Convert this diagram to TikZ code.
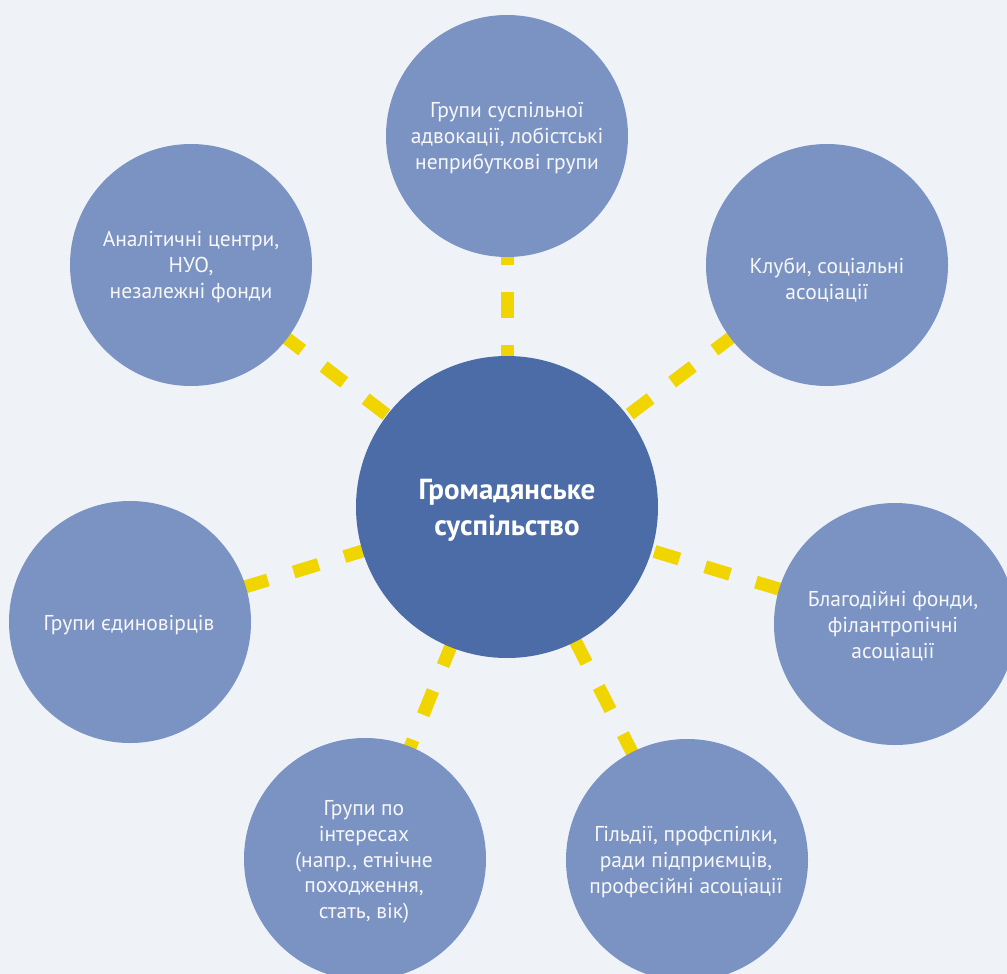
\documentclass[tikz,border=0pt]{standalone}
\usepackage{fontspec}
\setmainfont{PT Sans}
\pgfdeclarelayer{back}
\pgfdeclarelayer{links}
\pgfsetlayers{back,links,main}
\definecolor{bgc}{HTML}{EFF3F8}
\definecolor{outerc}{HTML}{7B93C3}
\definecolor{centerc}{HTML}{4B6CA6}
\definecolor{linkc}{HTML}{F0D500}
\definecolor{txtc}{HTML}{F7F7F7}
\begin{document}
\begin{tikzpicture}[x=1pt,y=-1pt,
 outer/.style={circle, fill=outerc, minimum size=242pt, inner sep=0pt},
 hub/.style={circle, fill=centerc, minimum size=302pt, inner sep=0pt},
 lbl/.style={align=center, text=txtc, font=\fontsize{21.5}{25.8}\selectfont, inner sep=0pt},
 hublbl/.style={align=center, text=white, font=\bfseries\fontsize{29}{36}\selectfont, inner sep=0pt},
 link/.style={draw=linkc, line width=13pt, dash pattern=on 26pt off 27pt}]
\useasboundingbox (0,0) rectangle (1007,974);
\begin{pgfonlayer}{back}
\fill[bgc] (0,0) rectangle (1007,974);
\end{pgfonlayer}
\clip (0,0) rectangle (1007,974);
% circles
\node[hub] (hub) at (507,507) {};
\node[outer] (top) at (507,136) {};
\node[outer] (ul) at (191,265) {};
\node[outer] (ur) at (827,265) {};
\node[outer] (lft) at (130,622) {};
\node[outer] (rgt) at (895,624) {};
\node[outer] (bl) at (365,859) {};
\node[outer] (br) at (687,860) {};
% labels
\node[hublbl] (hubt) at (507,510) {Громадянське\\суспільство};
\node[lbl] (topt) at (507,138) {Групи суспільної\\адвокації, лобістські\\неприбуткові групи};
\node[lbl] (ult) at (191,267) {Аналітичні центри,\\НУО,\\незалежні фонди};
\node[lbl] (urt) at (827,280) {Клуби, соціальні\\асоціації};
\node[lbl] (lftt) at (129,625) {Групи єдиновірців};
\node[lbl] (rgtt) at (893,626) {Благодійні фонди,\\філантропічні\\асоціації};
\node[lbl] (blt) at (364,862) {Групи по\\інтересах\\(напр., етнічне\\походження,\\стать, вік)};
\node[lbl] (brt) at (686,862) {Гільдії, профспілки,\\ради підприємців,\\професійні асоціації};
% connectors
\begin{pgfonlayer}{links}
\draw[link, dash phase=23pt] (hub.center) -- (top.center);
\draw[link, dash phase=7pt] (hub.center) -- (ul.center);
\draw[link, dash phase=5pt] (hub.center) -- (ur.center);
\draw[link, dash phase=15pt] (hub.center) -- (lft.center);
\draw[link, dash phase=5pt] (hub.center) -- (rgt.center);
\draw[link, dash phase=14pt] (hub.center) -- (bl.center);
\draw[link, dash phase=10pt] (hub.center) -- (br.center);
\end{pgfonlayer}
\end{tikzpicture}
\end{document}
